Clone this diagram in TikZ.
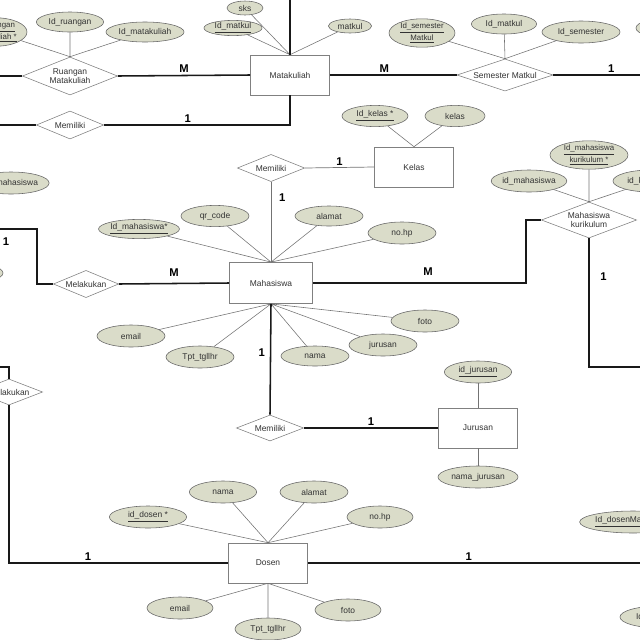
\documentclass[tikz,border=0pt]{standalone}
\usepackage{fontspec}
\setmainfont{Liberation Sans}
\usetikzlibrary{shapes.geometric}
\definecolor{attrfill}{RGB}{218,220,201}

\begin{document}
\begin{tikzpicture}[
		x=0.025cm,
		y=-0.025cm,
		font=\fontsize{6}{6.5}\selectfont,
		entity/.style={draw=black!50, fill=white, text=black!80, minimum width=1.98cm, minimum height=1cm, inner sep=0pt},
		rel/.style={diamond, aspect=2.5, draw=black!50, fill=white, text=black!80, align=center, inner sep=0pt, minimum width=1.68cm, minimum height=0.68cm},
		attr/.style={ellipse, draw=black!60, fill=attrfill, text=black!80, align=center, inner sep=0pt, minimum width=1.7cm, minimum height=0.53cm},
		twoline/.style={font=\fontsize{5.6}{5.6}\selectfont},
		link/.style={line width=1.1pt, black!90},
		thinlink/.style={line width=0.5pt, black!55},
		attrline/.style={line width=0.4pt, black!55},
		card/.style={font=\bfseries\fontsize{8}{9}\selectfont, text=black, inner sep=1.5pt}
		]
		\useasboundingbox (0,0) rectangle (640,640);
		\clip (0,0) rectangle (640,640);
		
		% Entities
		\node[entity] (mk) at (290,75) {Matakuliah};
		\node[entity] (kls) at (414,167) {Kelas};
		\node[entity, minimum width=2.08cm, minimum height=1.03cm] (mhs) at (271,283) {Mahasiswa};
		\node[entity] (jrs) at (478,428) {Jurusan};
		\node[entity] (dsn) at (268,563) {Dosen};
		
		% Relations
		\node[rel, minimum width=2.38cm, minimum height=0.95cm] (rm) at (70,76) {Ruangan\\Matakuliah};
		\node[rel, minimum height=0.7cm] (mm) at (70,125) {Memiliki};
		\node[rel, minimum width=2.4cm, minimum height=0.8cm] (sm) at (505,75) {Semester Matkul};
		\node[rel] (mkl) at (271,168) {Memiliki};
		\node[rel, minimum width=1.63cm] (mel) at (86,284) {Melakukan};
		\node[rel, minimum width=2.38cm, minimum height=0.9cm] (mkk) at (589,220) {Mahasiswa\\kurikulum};
		\node[rel, minimum height=0.65cm] (mjr) at (270,428) {Memiliki};
		\node[rel, minimum height=0.65cm] (mel2) at (9,392) {Melakukan};
		
		% Attributes
		\node[attr, twoline, minimum width=1.6cm, minimum height=0.5cm] (ruM) at (-5,32) {\underline{Id\_ruangan}\\\underline{matakuliah *}};
		\node[attr, minimum width=1.68cm, minimum height=0.5cm] (rid) at (70,22) {Id\_ruangan};
		\node[attr, minimum width=1.95cm, minimum height=0.5cm] (rmk) at (145,32) {Id\_matakuliah};
		\node[attr, minimum width=0.9cm, minimum height=0.35cm] (sks) at (245,8) {sks};
		\node[attr, minimum width=1.45cm, minimum height=0.38cm] (idmk) at (233,28) {\underline{Id\_matkul}};
		\node[attr, minimum width=1.08cm, minimum height=0.35cm] (mkn) at (350,26) {matkul};
		\node[attr, twoline, minimum width=1.65cm, minimum height=0.55cm] (idsm) at (422,33) {\underline{Id\_semester}\\\underline{Matkul}};
		\node[attr, minimum width=1.63cm, minimum height=0.5cm] (smk) at (504,24) {Id\_matkul};
		\node[attr, minimum width=1.95cm, minimum height=0.55cm] (smsm) at (581,32) {Id\_semester};
		\node[attr, minimum width=1.95cm, minimum height=0.55cm] (smx) at (675,28) {};
		\node[attr, minimum width=1.65cm] (idkls) at (375,116) {\underline{Id\_kelas *}};
		\node[attr, minimum width=1.5cm] (klsn) at (455,116) {kelas};
		\node[attr, minimum height=0.55cm] (lmhs) at (11,183) {Id\_mahasiswa};
		\node[attr, minimum width=1.65cm, minimum height=0.5cm] (lx) at (-30,273) {};
		\node[attr, minimum width=1.98cm, minimum height=0.48cm] (idmhs) at (139,229) {\underline{Id\_mahasiswa*}};
		\node[attr] (qr) at (215,216) {qr\_code};
		\node[attr, minimum height=0.5cm] (alm) at (329,216) {alamat};
		\node[attr, minimum height=0.55cm] (hp) at (402,233) {no.hp};
		\node[attr, minimum height=0.55cm] (eml) at (131,336) {email};
		\node[attr, minimum height=0.55cm] (tpt) at (200,357) {Tpt\_tgllhr};
		\node[attr, minimum height=0.5cm] (nm) at (315,356) {nama};
		\node[attr, minimum height=0.55cm] (jur) at (383,345) {jurusan};
		\node[attr, minimum height=0.55cm] (fto) at (425,321) {foto};
		\node[attr, minimum width=1.68cm, minimum height=0.55cm] (idj) at (478,372) {\underline{id\_jurusan}};
		\node[attr, minimum width=2cm, minimum height=0.55cm] (nmj) at (478,477) {nama\_jurusan};
		\node[attr, twoline, minimum width=1.95cm, minimum height=0.55cm] (idmk2) at (589,155) {\underline{Id\_mahasiswa}\\\underline{kurikulum *}};
		\node[attr, minimum width=1.88cm, minimum height=0.55cm] (mkm) at (529,181) {id\_mahasiswa};
		\node[attr, minimum width=1.9cm, minimum height=0.55cm] (mkr) at (651,181) {id\_kurikulum};
		\node[attr, minimum width=1.93cm, minimum height=0.55cm] (idd) at (148,517) {\underline{id\_dosen *}};
		\node[attr, minimum width=1.68cm, minimum height=0.55cm] (dnm) at (223,492) {nama};
		\node[attr, minimum height=0.55cm] (dal) at (314,492) {alamat};
		\node[attr, minimum width=1.65cm, minimum height=0.55cm] (dhp) at (380,517) {no.hp};
		\node[attr, minimum width=1.65cm, minimum height=0.55cm] (dem) at (180,608) {email};
		\node[attr, minimum width=1.65cm, minimum height=0.55cm] (dtp) at (268,629) {Tpt\_tgllhr};
		\node[attr, minimum width=1.65cm, minimum height=0.55cm] (dft) at (348,610) {foto};
		\node[attr, minimum width=2.25cm, minimum height=0.55cm] (iddm) at (633,522) {\underline{Id\_dosenMatakuliah}};
		\node[attr, minimum width=2cm, minimum height=0.55cm] (brx) at (660,617) {Id\_kurikulum};
		
		% Free ends
		\coordinate (mkUp) at (290,-10);
		\coordinate (rmOut) at (-10,76);
		\coordinate (mmOut) at (-10,125);
		\coordinate (smOut) at (650,75);
		\coordinate (melUp) at (37,229);
		\coordinate (melOut) at (-10,229);
		\coordinate (mkkBend) at (526,220);
		\coordinate (mkkOut) at (650,367);
		\coordinate (mel2In) at (-10,367);
		\coordinate (dsnOut) at (650,563);
		
		% Attribute lines
		\draw[attrline] (ruM) -- (rm.north) (rid) -- (rm.north) (rmk) -- (rm.north);
		\draw[attrline] (sks) -- (mk.north) (idmk) -- (mk.north) (mkn) -- (mk.north);
		\draw[attrline] (idsm) -- (sm.north) (smk) -- (sm.north) (smsm) -- (sm.north);
		\draw[attrline] (idkls) -- (kls.north) (klsn) -- (kls.north);
		\draw[attrline] (idmhs) -- (mhs.north) (qr) -- (mhs.north) (alm) -- (mhs.north) (hp) -- (mhs.north);
		\draw[attrline] (eml) -- (mhs.south) (tpt) -- (mhs.south) (nm) -- (mhs.south) (jur) -- (mhs.south) (fto) -- (mhs.south);
		\draw[attrline] (idj) -- (jrs.north) (nmj) -- (jrs.south);
		\draw[attrline] (idmk2) -- (mkk.north) (mkm) -- (mkk.north) (mkr) -- (mkk.north);
		\draw[attrline] (idd) -- (dsn.north) (dnm) -- (dsn.north) (dal) -- (dsn.north) (dhp) -- (dsn.north);
		\draw[attrline] (dem) -- (dsn.south) (dtp) -- (dsn.south) (dft) -- (dsn.south);
		
		% Matakuliah links
		\draw[link] (mk.north) -- (mkUp);
		\draw[link] (rmOut) -- (rm.west);
		\draw[link] (rm.east) -- node[card, above] {M} (mk.west);
		\draw[link] (mmOut) -- (mm.west);
		\draw[link] (mm.east) -- node[card, above, pos=0.45] {1} (mk.south |- mm.east) -- (mk.south);
		\draw[link] (mk.east) -- node[card, above, pos=0.43] {M} (sm.west);
		\draw[link] (sm.east) -- node[card, above, pos=0.6] {1} (smOut);
		
		% Mahasiswa links
		\draw[thinlink] (mkl.east) -- node[card, above] {1} (kls.west);
		\draw[thinlink] (mkl.south) -- node[card, right=4pt, pos=0.2] {1} (mhs.north);
		\draw[link] (mel.east) -- node[card, above=3pt] {M} (mhs.west);
		\draw[link] (mel.west) -| (melUp) -- node[card, below=4pt, pos=0.66] {1} (melOut);
		\draw[link] (mhs.east) -- node[card, above=3pt, pos=0.54] {M} (mkkBend |- mhs.east) -- (mkkBend) -- (mkk.west);
		\draw[link] (mkk.south) -- node[card, right=6pt, pos=0.3] {1} (mkk.south |- mkkOut) -- (mkkOut);
		\draw[link] (mhs.south) -- node[card, left=2pt, pos=0.44] {1} (mjr.north);
		\draw[link] (mjr.east) -- node[card, above] {1} (jrs.west);
		
		% Dosen links
		\draw[link] (mel2In) -| (mel2.north);
		\draw[link] (mel2.south) -- (mel2.south |- dsn.west) -- node[card, above, pos=0.36] {1} (dsn.west);
		\draw[link] (dsn.east) -- node[card, above, pos=0.47] {1} (dsnOut);
	\end{tikzpicture}
\end{document}
